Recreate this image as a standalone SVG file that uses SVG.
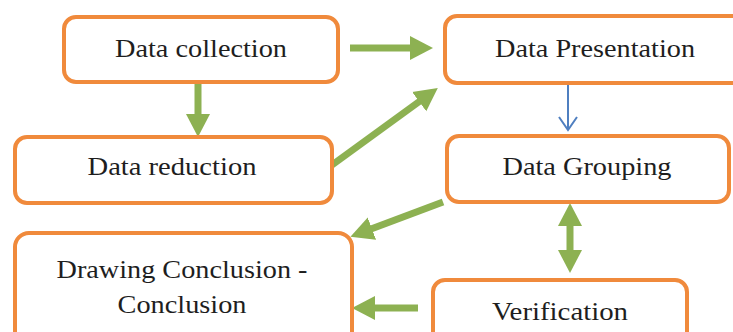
<svg xmlns="http://www.w3.org/2000/svg" width="733" height="332" viewBox="0 0 733 332">
<style>
.box{fill:#fff;stroke:#F08A3C;stroke-width:4}
.lbl{font-family:"Liberation Serif","Times New Roman",serif;font-size:26px;fill:#1e1e1e;text-anchor:middle}
.ga{stroke:#8DB152;stroke-width:7;fill:none;marker-end:url(#ah)}
</style>
<defs>
<marker id="ah" markerUnits="userSpaceOnUse" markerWidth="24" markerHeight="26" viewBox="0 -13 24 26" refX="1" refY="0" orient="auto-start-reverse">
<path d="M0,-12 L23,0 L0,12 z" fill="#8DB152"/>
</marker>
</defs>
<rect width="733" height="332" fill="#fff"/>
<g id="connectors">
<line class="ga" x1="350" y1="48" x2="411" y2="48"/>
<line class="ga" x1="198" y1="84" x2="198" y2="115"/>
<line class="ga" x1="332" y1="165" x2="420" y2="101"/>
<line class="ga" x1="443" y1="202" x2="371" y2="229"/>
<line class="ga" x1="570" y1="225" x2="570" y2="251" marker-start="url(#ah)"/>
<line class="ga" x1="418" y1="308" x2="374" y2="308"/>
<line x1="568" y1="84" x2="568" y2="129" stroke="#4F7FC0" stroke-width="2"/>
<polyline points="559,117 568,130 577,117" fill="none" stroke="#4F7FC0" stroke-width="2"/>
</g>
<g id="n-collection">
<rect class="box" x="64" y="17" width="274" height="65" rx="12"/>
<text class="lbl" x="201" y="57" textLength="172" lengthAdjust="spacingAndGlyphs">Data collection</text>
</g>
<g id="n-presentation">
<rect class="box" x="445" y="16" width="300" height="67" rx="12"/>
<text class="lbl" x="595" y="57" textLength="200" lengthAdjust="spacingAndGlyphs">Data Presentation</text>
</g>
<g id="n-reduction">
<rect class="box" x="15" y="137" width="317" height="66" rx="12"/>
<text class="lbl" x="172" y="175" textLength="169" lengthAdjust="spacingAndGlyphs">Data reduction</text>
</g>
<g id="n-grouping">
<rect class="box" x="447" y="136" width="282" height="66" rx="12"/>
<text class="lbl" x="587" y="175" textLength="169" lengthAdjust="spacingAndGlyphs">Data Grouping</text>
</g>
<g id="n-conclusion">
<rect class="box" x="15" y="233" width="337" height="115" rx="14"/>
<text class="lbl" x="182" y="278" textLength="251" lengthAdjust="spacingAndGlyphs">Drawing Conclusion -</text>
<text class="lbl" x="182" y="313" textLength="129" lengthAdjust="spacingAndGlyphs">Conclusion</text>
</g>
<g id="n-verification">
<rect class="box" x="433" y="280" width="254" height="68" rx="12"/>
<text class="lbl" x="560" y="320" textLength="136" lengthAdjust="spacingAndGlyphs">Verification</text>
</g>
</svg>
